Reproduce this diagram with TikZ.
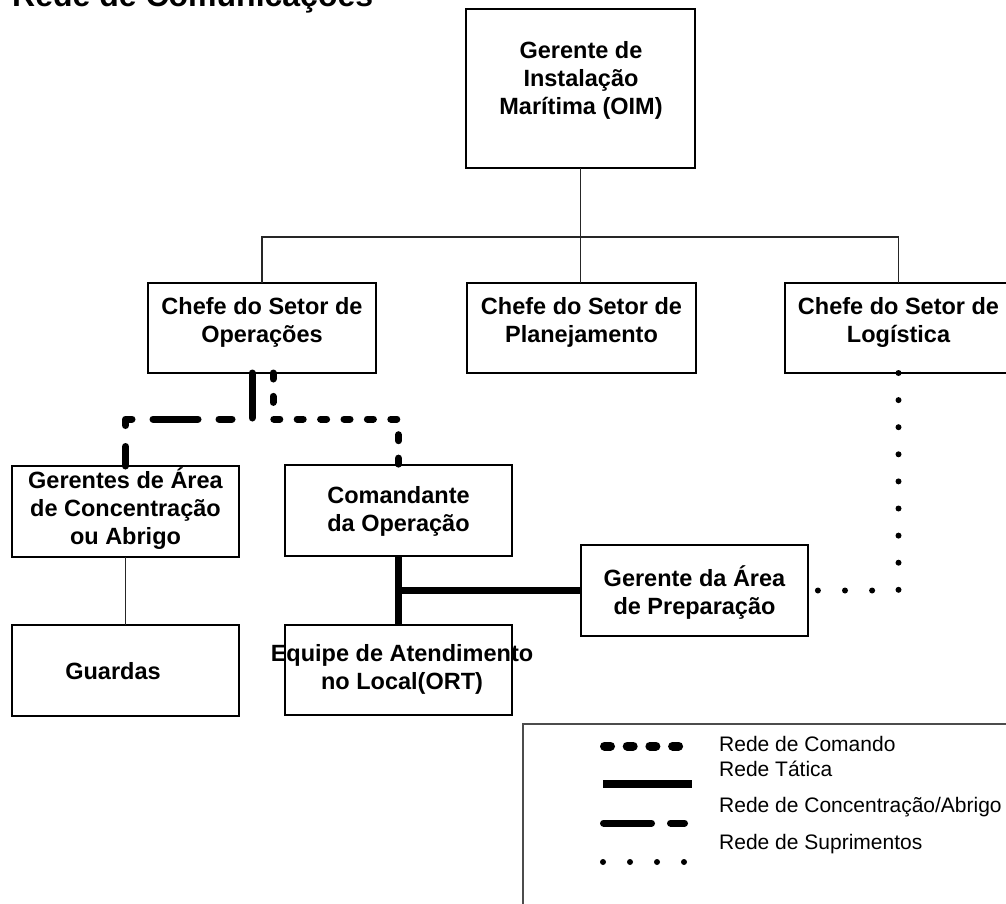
\documentclass[tikz,border=0pt]{standalone}
\usepackage{fontspec}
\setmainfont{Liberation Sans}
\begin{document}
\begin{tikzpicture}[x=1pt,y=-1pt,
  box/.style={draw=black, line width=2pt, inner sep=0pt, outer sep=0pt, minimum width=227pt, minimum height=91pt},
  lbl/.style={inner sep=0pt, align=center, font=\fontsize{23.5}{28}\selectfont\bfseries},
  leg/.style={inner sep=0pt, anchor=base west, font=\fontsize{21}{25}\selectfont},
  thinline/.style={draw=black!85, line width=1.1pt},
  cmdnet/.style={line width=7pt, line cap=round, line join=round, dash pattern=on 6pt off 17.4pt},
  concnet/.style={line width=7pt, line cap=round, line join=round, dash pattern=on 45pt off 21pt on 13pt off 21pt},
  tacnet/.style={line width=7pt},
  supnet/.style={line width=6pt, line cap=round, dash pattern=on 0pt off 27.1pt}
]
\useasboundingbox (0,0) rectangle (1006,904);

% title (cut by the top edge, as in the reference)
\node[inner sep=0pt, anchor=base west, font=\fontsize{32}{36}\selectfont\bfseries] (title) at (12,7) {Rede de Comunicações};

% boxes
\node[box, minimum width=229pt, minimum height=159pt] (oim) at (580.5,88.5) {};
\node[box, minimum width=228pt, minimum height=90pt] (ops) at (262,328) {};
\node[box, minimum width=229pt, minimum height=90pt] (plan) at (581.5,328) {};
\node[box, minimum width=227pt, minimum height=90pt] (log) at (898.5,328) {};
\node[box] (ger) at (125.5,511.5) {};
\node[box] (cmd) at (398.5,510.5) {};
\node[box] (prep) at (694.5,590.5) {};
\node[box] (grd) at (125.5,670.5) {};
\node[box, minimum height=90pt] (ort) at (398.5,670) {};

% texts
\node[lbl] (oimT) at (581,80) {Gerente de\\Instalação\\Marítima (OIM)};
\node[lbl] (opsT) at (262,322) {Chefe do Setor de\\Operações};
\node[lbl] (planT) at (581.5,322) {Chefe do Setor de\\Planejamento};
\node[lbl] (logT) at (898.5,322) {Chefe do Setor de\\Logística};
\node[lbl] (gerT) at (125.5,509) {Gerentes de Área\\de Concentração\\ou Abrigo};
\node[lbl] (cmdT) at (398.5,511) {Comandante\\da Operação};
\node[lbl] (prepT) at (694.5,593) {Gerente da Área\\de Preparação};
\node[lbl] (grdT) at (113,671) {Guardas};
\node[lbl] (ortT) at (402,669) {Equipe de Atendimento\\no Local(ORT)};

% hierarchy connectors
\draw[thinline] (oim.south) -- (oim.south |- plan.north);
\draw[thinline] (ops.north) -- ++(0,-46) -| (log.north);
\draw[thinline] (ger.south) -- (grd.north);

% command network
\draw[cmdnet] ([xshift=11pt]ops.south) -- ++(0,46) -| (cmd.north);
% concentration network
\draw[concnet] ([xshift=-10pt]ops.south) -- ++(0,46) -| (ger.north);
% tactical network
\draw[tacnet] (cmd.south) -- (ort.north);
\draw[tacnet] (cmd.south |- prep.west) -- (prep.west);
% supply network
\draw[supnet] (log.south) |- (prep.east);

% legend
\draw[draw=black!70, line width=1.5pt] (523,940) -- (523,724) -- (1030,724);
\draw[line width=9pt, line cap=round, dash pattern=on 6pt off 16.7pt] (604.5,746) -- (679,746);
\draw[line width=8pt] (603,784) -- (692,784);
\draw[line width=7pt, line cap=round, dash pattern=on 48pt off 19pt on 14pt off 19pt] (603.5,823) -- (684.5,823);
\draw[line width=6pt, line cap=round, dash pattern=on 0pt off 27pt] (603,862) -- (685,862);
\node[leg] (l1) at (719,751) {Rede de Comando};
\node[leg] (l2) at (719,776.5) {Rede Tática};
\node[leg] (l3) at (719,812) {Rede de Concentração/Abrigo};
\node[leg] (l4) at (719,849) {Rede de Suprimentos};
\end{tikzpicture}
\end{document}
